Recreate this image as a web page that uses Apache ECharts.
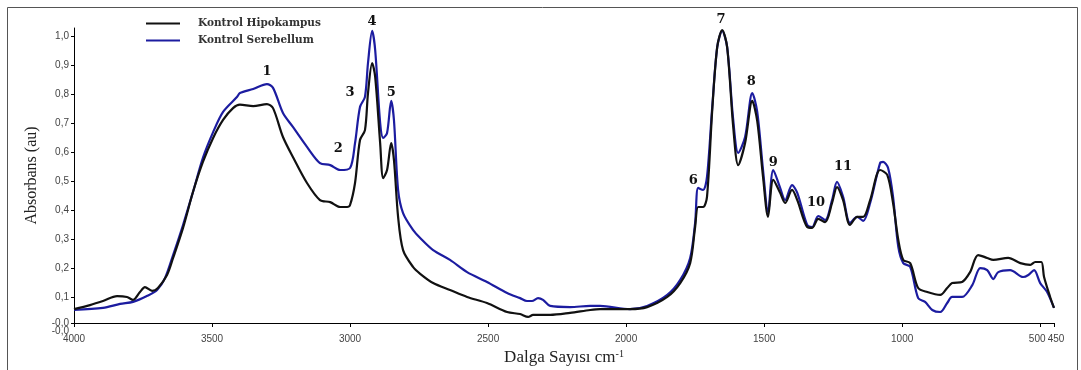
<!DOCTYPE html>
<html>
<head>
<meta charset="utf-8">
<script src="https://cdn.jsdelivr.net/npm/echarts@6/dist/echarts.min.js"></script>
<style>
  html, body { margin: 0; padding: 0; background: #fff; }
  #spectrum { width: 1081px; height: 370px; }
</style>
</head>
<body>
<div id="spectrum"></div>
<script>
// Kontrol Hipokampus (dalga sayısı / absorbans)
const hipoWave = [4000, 3942, 3895, 3844, 3808, 3786, 3761, 3743, 3717, 3696, 3663, 3641, 3605, 3569, 3533, 3496, 3460, 3424, 3399, 3351,
  3301, 3279, 3243, 3207, 3156, 3109, 3072, 3036, 3011, 3000, 2982, 2964, 2946, 2935, 2920, 2909, 2891, 2880, 2866, 2851,
  2841, 2826, 2808, 2772, 2746, 2699, 2638, 2576, 2504, 2431, 2384, 2355, 2337, 2275, 2203, 2130, 2094, 1986, 1924, 1851,
  1804, 1768, 1750, 1739, 1721, 1707, 1688, 1670, 1652, 1634, 1612, 1594, 1569, 1543, 1525, 1504, 1486, 1467, 1442, 1424,
  1399, 1380, 1344, 1326, 1304, 1279, 1254, 1236, 1214, 1189, 1163, 1141, 1116, 1080, 1054, 1033, 1014, 996, 971, 942,
  909, 862, 837, 819, 783, 754, 725, 692, 670, 616, 572, 536, 518, 496, 486, 464, 450];
const hipoAbs = [0.058, 0.072, 0.086, 0.103, 0.100, 0.090, 0.117, 0.134, 0.121, 0.131, 0.176, 0.235, 0.339, 0.463, 0.567, 0.650, 0.712, 0.753, 0.765, 0.760,
  0.767, 0.753, 0.653, 0.584, 0.494, 0.435, 0.428, 0.411, 0.411, 0.418, 0.494, 0.643, 0.677, 0.805, 0.909, 0.861, 0.632, 0.511, 0.539, 0.632,
  0.574, 0.377, 0.262, 0.204, 0.180, 0.148, 0.124, 0.100, 0.079, 0.048, 0.041, 0.031, 0.038, 0.038, 0.045, 0.055, 0.058, 0.058, 0.065, 0.100,
  0.148, 0.217, 0.342, 0.411, 0.411, 0.446, 0.747, 0.964, 1.023, 0.964, 0.688, 0.556, 0.632, 0.778, 0.708, 0.515, 0.377, 0.505, 0.460, 0.425,
  0.470, 0.435, 0.342, 0.339, 0.370, 0.359, 0.425, 0.480, 0.435, 0.349, 0.377, 0.377, 0.435, 0.539, 0.522, 0.425, 0.297, 0.228, 0.217, 0.131,
  0.117, 0.107, 0.131, 0.148, 0.152, 0.186, 0.245, 0.235, 0.228, 0.235, 0.217, 0.211, 0.221, 0.221, 0.169, 0.100, 0.062];

// Kontrol Serebellum
const serebWave = [4000, 3895, 3833, 3786, 3736, 3699, 3670, 3641, 3605, 3569, 3533, 3496, 3460, 3409, 3399, 3351, 3301, 3279, 3243, 3207,
  3156, 3109, 3072, 3036, 3000, 2982, 2964, 2946, 2935, 2920, 2909, 2891, 2880, 2866, 2851, 2841, 2826, 2808, 2772, 2746,
  2699, 2638, 2576, 2504, 2431, 2384, 2359, 2341, 2319, 2301, 2275, 2203, 2130, 2094, 1986, 1924, 1851, 1804, 1768, 1750,
  1739, 1721, 1707, 1688, 1670, 1652, 1634, 1612, 1594, 1569, 1543, 1525, 1504, 1486, 1467, 1442, 1424, 1399, 1380, 1344,
  1326, 1304, 1279, 1254, 1236, 1214, 1189, 1163, 1141, 1116, 1080, 1069, 1051, 1033, 1014, 996, 971, 942, 917, 891,
  862, 837, 819, 783, 746, 717, 692, 670, 652, 609, 562, 543, 522, 500, 475, 450];
const serebAbs = [0.055, 0.062, 0.076, 0.083, 0.103, 0.124, 0.166, 0.245, 0.349, 0.463, 0.581, 0.670, 0.740, 0.792, 0.805, 0.819, 0.836, 0.823, 0.736, 0.688,
  0.619, 0.563, 0.556, 0.539, 0.546, 0.632, 0.757, 0.792, 0.909, 1.020, 0.954, 0.702, 0.650, 0.667, 0.778, 0.712, 0.470, 0.390, 0.332, 0.304,
  0.262, 0.228, 0.186, 0.152, 0.114, 0.096, 0.086, 0.086, 0.096, 0.090, 0.069, 0.065, 0.069, 0.069, 0.058, 0.069, 0.107, 0.159, 0.235, 0.356,
  0.477, 0.470, 0.515, 0.757, 0.964, 1.020, 0.964, 0.712, 0.598, 0.653, 0.805, 0.740, 0.539, 0.394, 0.539, 0.477, 0.435, 0.487, 0.460, 0.349,
  0.342, 0.380, 0.366, 0.435, 0.498, 0.446, 0.356, 0.377, 0.363, 0.425, 0.563, 0.567, 0.546, 0.446, 0.273, 0.217, 0.204, 0.096, 0.083, 0.055,
  0.048, 0.079, 0.100, 0.100, 0.141, 0.200, 0.193, 0.162, 0.186, 0.193, 0.169, 0.176, 0.193, 0.148, 0.117, 0.062];

// eksen etiketleri
const xTicks = [4000, 3500, 3000, 2500, 2000, 1500, 1000, 500, 450];
const yTicks = [0.01, 0.1, 0.2, 0.3, 0.4, 0.5, 0.6, 0.7, 0.8, 0.9, 1.0];

// pik numaraları
const peakNames = ['1', '2', '3', '4', '5', '6', '7', '8', '9', '10', '11'];
const peakWave = [3301, 3043, 3000, 2920, 2851, 1757, 1656, 1547, 1467, 1312, 1214];
const peakAbs = [0.878, 0.612, 0.805, 1.051, 0.805, 0.504, 1.058, 0.843, 0.563, 0.425, 0.549];

function pairs(w, a) {
  return w.map(function (x, i) { return [x, a[i]]; });
}

var chartDom = document.getElementById('spectrum');
var myChart = echarts.init(chartDom);
var tickFont = { fontFamily: 'Liberation Sans', fontSize: 10, color: '#444' };

var option = {
  animation: false,
  backgroundColor: '#fff',
  grid: { left: 74, right: 27, top: 28, bottom: 47, containLabel: false, outerBoundsMode: 'none' },
  legend: {
    orient: 'vertical',
    left: 146,
    top: 18,
    padding: 0,
    icon: 'rect',
    itemWidth: 34,
    itemHeight: 2,
    itemGap: 6,
    textStyle: { fontFamily: 'DejaVu Serif', fontWeight: 'bold', fontSize: 10.5, color: '#333', padding: [0, 0, 0, 13] },
    data: ['Kontrol Hipokampus', 'Kontrol Serebellum']
  },
  xAxis: {
    type: 'value',
    inverse: true,
    min: 450,
    max: 4000,
    splitLine: { show: false },
    axisLine: { show: true, onZero: false, lineStyle: { color: '#000', width: 1 } },
    axisTick: { show: true, length: 4, customValues: xTicks, lineStyle: { color: '#000' } },
    axisLabel: {
      customValues: xTicks,
      margin: 11,
      fontFamily: tickFont.fontFamily,
      fontSize: tickFont.fontSize,
      color: tickFont.color,
      formatter: function (v) {
        if (v === 500) return '{l|500}';
        if (v === 450) return '{r|450}';
        return String(v);
      },
      rich: {
        l: { fontFamily: 'Liberation Sans', fontSize: 10, color: '#444', padding: [0, 6, 0, 0] },
        r: { fontFamily: 'Liberation Sans', fontSize: 10, color: '#444', padding: [0, 0, 0, 4] }
      }
    },
    name: '{a|Dalga Sayısı cm}{b|-1}',
    nameLocation: 'middle',
    nameGap: 26,
    nameTextStyle: {
      rich: {
        a: { fontFamily: 'Liberation Serif', fontSize: 17, color: '#222' },
        b: { fontFamily: 'Liberation Serif', fontSize: 10, color: '#222', verticalAlign: 'top' }
      }
    }
  },
  yAxis: {
    type: 'value',
    min: 0.01,
    max: 1.03,
    splitLine: { show: false },
    axisLine: { show: true, onZero: false, lineStyle: { color: '#000', width: 1 } },
    axisTick: { show: true, length: 3, customValues: yTicks, lineStyle: { color: '#000' } },
    axisLabel: {
      customValues: yTicks,
      margin: 5,
      fontFamily: tickFont.fontFamily,
      fontSize: tickFont.fontSize,
      color: tickFont.color,
      formatter: function (v) {
        if (v < 0.05) return '-0,0';
        return v.toFixed(1).replace('.', ',');
      }
    },
    name: 'Absorbans (au)',
    nameLocation: 'middle',
    nameGap: 34,
    nameRotate: 90,
    nameTextStyle: { fontFamily: 'Liberation Serif', fontSize: 16, color: '#222' }
  },
  series: [
    {
      name: 'Kontrol Serebellum',
      type: 'line',
      symbol: 'none',
      smooth: 0.3,
      clip: true,
      color: '#1c1ca0',
      lineStyle: { color: '#1c1ca0', width: 2.2 },
      data: pairs(serebWave, serebAbs)
    },
    {
      name: 'Kontrol Hipokampus',
      type: 'line',
      symbol: 'none',
      smooth: 0.3,
      clip: true,
      color: '#111',
      lineStyle: { color: '#111', width: 2.2 },
      data: pairs(hipoWave, hipoAbs)
    }
  ]
};
myChart.setOption(option);

// çerçeve, ikinci "-0,0" etiketi ve pik numaraları
var graphics = [
  {
    type: 'rect',
    shape: { x: 7.5, y: 7.5, width: 1070, height: 400 },
    style: { fill: 'none', stroke: '#555', lineWidth: 1 },
    silent: true
  },
  {
    type: 'text',
    x: 69,
    y: 331,
    style: { text: '-0,0', font: '10px "Liberation Sans"', fill: '#444', align: 'right', verticalAlign: 'middle' }
  }
];
peakNames.forEach(function (name, i) {
  var p = myChart.convertToPixel({ gridIndex: 0 }, [peakWave[i], peakAbs[i]]);
  graphics.push({
    type: 'text',
    x: p[0],
    y: p[1],
    style: { text: name, font: 'bold 13px "DejaVu Serif"', fill: '#111', align: 'center', verticalAlign: 'middle' }
  });
});
myChart.setOption({ graphic: graphics });
</script>
</body>
</html>
